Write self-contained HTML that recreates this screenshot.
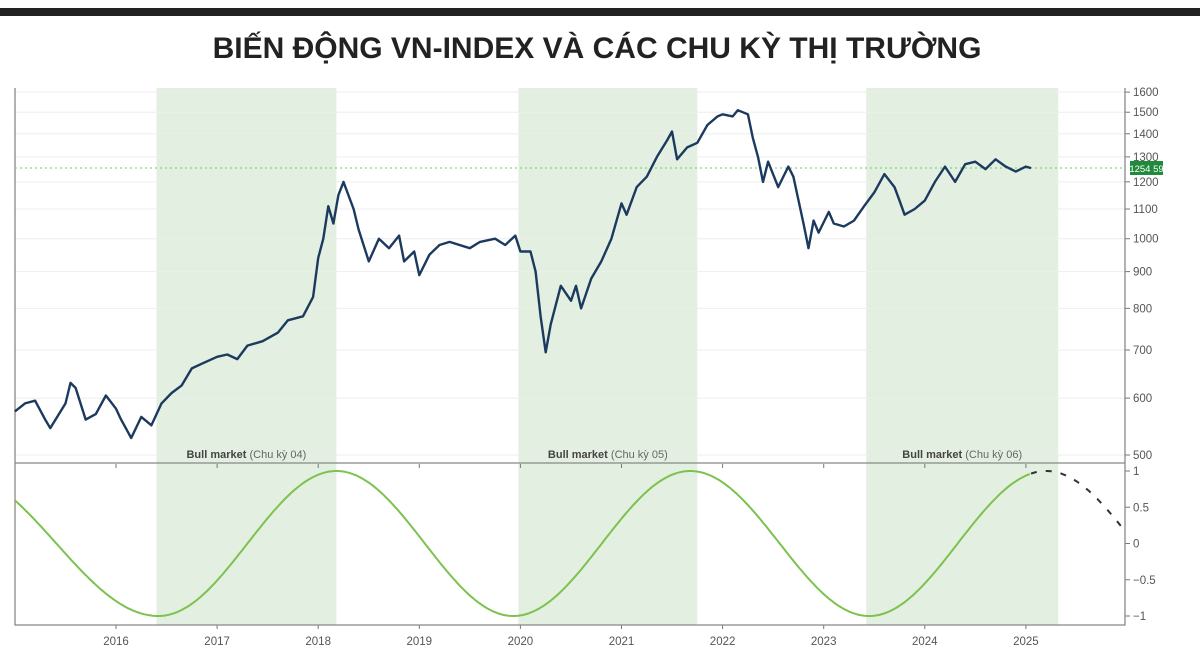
<!DOCTYPE html>
<html><head><meta charset="utf-8"><style>
body{margin:0;background:#fff;width:1200px;height:662px;overflow:hidden;font-family:"Liberation Sans","Noto Sans CJK SC",sans-serif}
</style></head><body>
<svg width="1200" height="662" xmlns="http://www.w3.org/2000/svg" id="chart">
<rect x="0" y="8" width="1200" height="8" fill="#222"/>
<text x="597" y="58" text-anchor="middle" font-size="30" font-weight="bold" fill="#222" font-family="Liberation Sans Narrow, Liberation Sans, sans-serif">BIẾN ĐỘNG VN-INDEX VÀ CÁC CHU KỲ THỊ TRƯỜNG</text>
<g id="bands"></g><g id="grid"></g><g id="axes"></g><g id="series"></g><g id="labels"></g>
</svg>
<script>
const years=[2016,2017,2018,2019,2020,2021,2022,2023,2024,2025];
const priceTicks=[500,600,700,800,900,1000,1100,1200,1300,1400,1500,1600];
const cycleTicks=[1,0.5,0,-0.5,-1];
const cycleTickLabels=["1","0.5","0","\u22120.5","\u22121"];
const bullStart=[2016.4,2019.98,2023.42];
const bullEnd=[2018.18,2021.75,2025.32];
const bullLabels=["(Chu kỳ 04)","(Chu kỳ 05)","(Chu kỳ 06)"];
const dates=[2015.0,2015.1,2015.2,2015.3,2015.35,2015.5,2015.55,2015.6,2015.7,2015.8,2015.9,2016.0,2016.05,2016.15,2016.25,2016.35,2016.45,2016.55,2016.65,2016.75,2016.85,2017.0,2017.1,2017.2,2017.3,2017.45,2017.6,2017.7,2017.85,2017.95,2018.0,2018.05,2018.1,2018.15,2018.2,2018.25,2018.35,2018.4,2018.5,2018.6,2018.7,2018.8,2018.85,2018.95,2019.0,2019.1,2019.2,2019.3,2019.5,2019.6,2019.75,2019.85,2019.95,2020.0,2020.1,2020.15,2020.2,2020.25,2020.3,2020.4,2020.5,2020.55,2020.6,2020.7,2020.8,2020.9,2021.0,2021.05,2021.15,2021.25,2021.35,2021.45,2021.5,2021.55,2021.65,2021.75,2021.85,2021.95,2022.0,2022.1,2022.15,2022.25,2022.3,2022.35,2022.4,2022.45,2022.55,2022.65,2022.7,2022.8,2022.85,2022.9,2022.95,2023.05,2023.1,2023.2,2023.3,2023.4,2023.5,2023.6,2023.7,2023.75,2023.8,2023.9,2024.0,2024.1,2024.2,2024.3,2024.4,2024.5,2024.6,2024.7,2024.8,2024.9,2025.0,2025.05];
const prices=[575,590,595,560,545,590,630,620,560,570,605,580,560,528,565,550,590,610,625,660,670,685,690,680,710,720,740,770,780,830,940,1000,1110,1050,1150,1200,1100,1030,930,1000,970,1010,930,960,890,950,980,990,970,990,1000,980,1010,960,960,900,780,695,760,860,820,860,800,880,930,1000,1120,1080,1180,1220,1300,1370,1410,1290,1340,1360,1440,1480,1490,1480,1510,1490,1380,1300,1200,1280,1180,1260,1220,1050,970,1060,1020,1090,1050,1040,1060,1110,1160,1230,1180,1130,1080,1100,1130,1200,1260,1200,1270,1280,1250,1290,1260,1240,1260,1254];
const lastPrice=1254.59;
const extremaDates=[2014.4,2016.42,2018.18,2019.93,2021.68,2023.45,2025.2,2026.95];
const extremaValues=[1,-1,1,-1,1,-1,1,-1];
const cycleStart=2015.0, cycleSolidEnd=2025.05, cycleEnd=2025.97;

const L=15,R=1125,TT=88,TB=463,BT=464,BB=625;
const X=t=>116+(t-2016)*101.1;
const YP=v=>455-312*Math.log(v/500);
const YC=v=>543.5-72.5*v;
const NS="http://www.w3.org/2000/svg";
function mk(p,tag,at){const e=document.createElementNS(NS,tag);for(const k in at)e.setAttribute(k,at[k]);document.getElementById(p).appendChild(e);return e;}
function cyc(t){for(let i=0;i<extremaDates.length-1;i++){const a=extremaDates[i],b=extremaDates[i+1];if(t>=a&&t<=b){const f=(t-a)/(b-a);return extremaValues[i]+(extremaValues[i+1]-extremaValues[i])*(1-Math.cos(Math.PI*f))/2;}}return 0;}

bullStart.forEach((s,i)=>{
 const r=mk('bands','rect',{x:X(s),y:TT,width:X(bullEnd[i])-X(s),height:BB-TT,fill:'#e3efe0'});
 
 
 const t=mk('labels','text',{x:(X(s)+X(bullEnd[i]))/2,y:458,'text-anchor':'middle','font-size':11,fill:'#444'});
 
 
 t.innerHTML='<tspan font-weight="bold">Bull market</tspan> <tspan fill="#666">'+bullLabels[i]+'</tspan>';
});
priceTicks.forEach(v=>{
 const g=mk('grid','line',{x1:L,x2:R,y1:YP(v),y2:YP(v),stroke:'#eee','stroke-width':1});
 
 
 mk('axes','line',{x1:R,x2:R+5,y1:YP(v),y2:YP(v),stroke:'#777'});
 const t=mk('axes','text',{x:R+8,y:YP(v)+4,'font-size':11.5,fill:'#555'});
 
 
 t.textContent=v;
});
cycleTicks.forEach((v,i)=>{
 mk('axes','line',{x1:R,x2:R+5,y1:YC(v),y2:YC(v),stroke:'#777'});
 const t=mk('axes','text',{x:R+8,y:YC(v)+4,'font-size':11.5,fill:'#555'});
 
 
 t.textContent=cycleTickLabels[i];
});
years.forEach(y=>{
 mk('axes','line',{x1:X(y),x2:X(y),y1:BB,y2:BB+4,stroke:'#777'});
 mk('axes','line',{x1:X(y),x2:X(y),y1:BT,y2:BT+4,stroke:'#777'});
 const t=mk('axes','text',{x:X(y),y:645,'text-anchor':'middle','font-size':11.5,fill:'#555'});
 
 
 t.textContent=y;
});
[['M'+L+' '+TT+'V'+BB+'H'+R+'V'+TT,'plot-frame'],['M'+L+' '+TB+'H'+R,'panel-divider']].forEach(([d,n])=>{
 const p=mk('axes','path',{d:d,fill:'none',stroke:'#888','stroke-width':1.3});
 
 
});
const cl=mk('series','line',{x1:L,x2:R,y1:YP(lastPrice),y2:YP(lastPrice),stroke:'#6c6','stroke-dasharray':'2,3','stroke-width':1});


const lb=mk('series','rect',{x:R+5,y:YP(lastPrice)-7,width:33,height:14,fill:'#1e8a3a'});


const lt=mk('series','text',{x:R+21.5,y:YP(lastPrice)+4,'text-anchor':'middle','font-size':9.5,fill:'#fff'});


lt.textContent=lastPrice.toFixed(2).replace('.',' ');
const pl=mk('series','path',{d:dates.map((t,i)=>(i?'L':'M')+X(t).toFixed(1)+' '+YP(prices[i]).toFixed(1)).join(''),fill:'none',stroke:'#1c3a5e','stroke-width':2.4,'stroke-linejoin':'round'});


let d1='',d2='';
for(let t=cycleStart;t<=cycleSolidEnd+1e-9;t+=0.02)d1+=(d1?'L':'M')+X(t).toFixed(1)+' '+YC(cyc(t)).toFixed(1);
for(let t=cycleSolidEnd;t<=cycleEnd;t+=0.02)d2+=(d2?'L':'M')+X(t).toFixed(1)+' '+YC(cyc(t)).toFixed(1);
const c1=mk('series','path',{d:d1,fill:'none',stroke:'#7cc24e','stroke-width':2});


const c2=mk('series','path',{d:d2,fill:'none',stroke:'#333','stroke-width':2,'stroke-dasharray':'6,9'});


</script>
</body></html>
